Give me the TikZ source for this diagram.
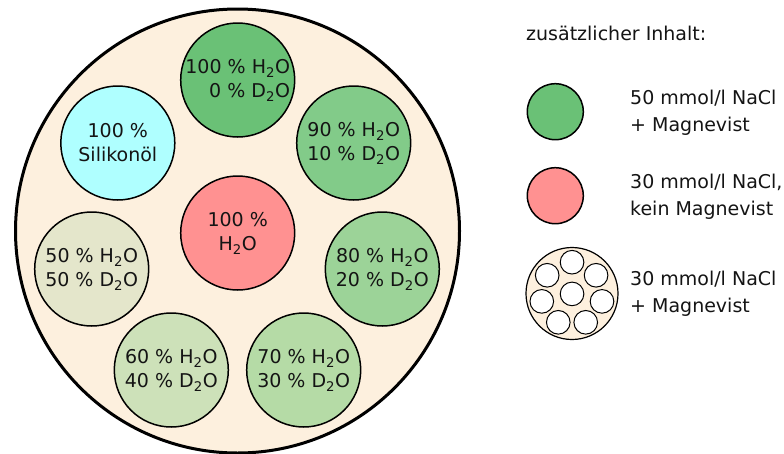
\documentclass[tikz,border=0pt]{standalone}
\usepackage{fontspec}
\setmainfont{DejaVu Sans}
\definecolor{platefill}{RGB}{253,240,222}
\definecolor{wellA}{RGB}{106,193,118}
\definecolor{wellB}{RGB}{130,203,137}
\definecolor{wellC}{RGB}{156,211,152}
\definecolor{wellD}{RGB}{181,219,166}
\definecolor{wellE}{RGB}{205,225,185}
\definecolor{wellF}{RGB}{228,230,203}
\definecolor{oilfill}{RGB}{175,255,255}
\definecolor{redfill}{RGB}{255,145,145}
\definecolor{inkcol}{RGB}{20,20,20}
\begin{document}
\begin{tikzpicture}[x=1pt,y=-1pt,
  plate/.style={circle,draw=black,line width=3pt,fill=platefill,minimum size=444pt,inner sep=0pt},
  well/.style={circle,draw=black,line width=1.5pt,minimum size=114pt,inner sep=0pt,
    align=center,text=inkcol,font=\fontsize{19}{24}\selectfont},
  swatch/.style={circle,draw=black,line width=1.5pt,minimum size=56pt,inner sep=0pt},
  legtext/.style={anchor=west,align=left,inner sep=0pt,text=inkcol,font=\fontsize{19}{26.7}\selectfont}]
\useasboundingbox (0,0) rectangle (784,453);

% sample holder with its eight wells
\node[plate] (plate) at (237.5,231) {};
\node[well,fill=wellA,align=right] (w100) at (237.7,80) {100 \% H\textsubscript{2}O\\0 \% D\textsubscript{2}O};
\node[well,fill=oilfill] (oil) at (117.8,143) {100 \%\\Silikonöl};
\node[well,fill=wellB] (w90) at (353.7,143) {90 \% H\textsubscript{2}O\\10 \% D\textsubscript{2}O};
\node[well,fill=redfill] (ref) at (237.7,233) {100 \%\\H\textsubscript{2}O};
\node[well,fill=wellF] (w50) at (91.7,269) {50 \% H\textsubscript{2}O\\50 \% D\textsubscript{2}O};
\node[well,fill=wellC] (w80) at (382.3,269) {80 \% H\textsubscript{2}O\\20 \% D\textsubscript{2}O};
\node[well,fill=wellE] (w60) at (171.3,370) {60 \% H\textsubscript{2}O\\40 \% D\textsubscript{2}O};
\node[well,fill=wellD] (w70) at (303.7,370) {70 \% H\textsubscript{2}O\\30 \% D\textsubscript{2}O};

% legend
\node[legtext] (title) at (526,33) {zusätzlicher Inhalt:};
\node[swatch,fill=wellA] (legA) at (555.3,111.7) {};
\node[legtext] (legAt) at (630,113) {50 mmol/l NaCl\\+ Magnevist};
\node[swatch,fill=redfill] (legB) at (555.3,195.7) {};
\node[legtext] (legBt) at (630,197) {30 mmol/l NaCl,\\kein Magnevist};

% miniature holder: scaled copy of the plate
\begin{scope}[shift={(572,293.5)},scale=0.2072]
  \draw[line width=1.2pt,fill=platefill] (0,0) circle[radius=222];
  \foreach \px/\py in {237.7/80,117.8/143,353.7/143,237.7/233,91.7/269,382.3/269,171.3/370,303.7/370}
    \draw[line width=1pt,fill=white] (\px-237.5,\py-231) circle[radius=57];
\end{scope}
\coordinate (legC) at (572,293.5);
\node[legtext] (legCt) at (630,294) {30 mmol/l NaCl\\+ Magnevist};
\end{tikzpicture}
\end{document}
